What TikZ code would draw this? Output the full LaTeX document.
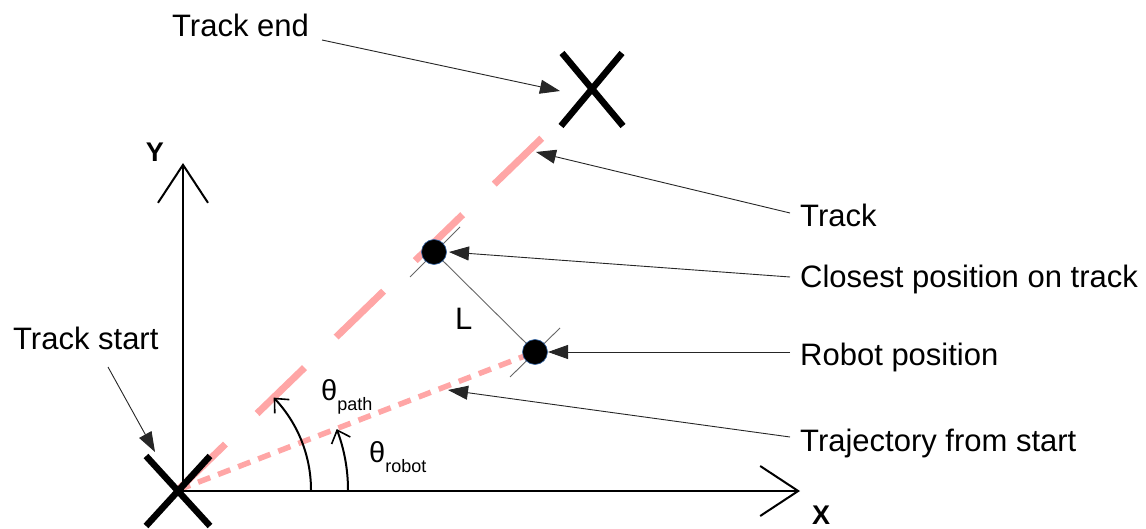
\documentclass[tikz,border=0pt]{standalone}
\usepackage{fontspec}
\setmainfont{Liberation Sans}
\usetikzlibrary{arrows.meta}
\definecolor{trackpink}{RGB}{255,166,166}
\definecolor{dotedge}{RGB}{52,101,164}
\tikzset{
  lbl/.style={anchor=base west,inner sep=0pt,font=\fontsize{31}{33}\selectfont},
  callout/.style={draw=black!85,line width=0.9pt,-{Triangle[length=20pt,width=14pt]}},
  axis/.style={line width=2pt,-{Straight Barb[length=38pt,width=50pt,line width=2pt]}},
  anglearc/.style={line width=2pt,-{Straight Barb[length=11pt,width=20pt,line width=1.6pt]}},
  crossmark/.style={line width=6.5pt,black},
  tick/.style={draw=black!60,line width=0.9pt},
  dotmark/.style={circle,fill=black,draw=dotedge,line width=0.6pt,minimum size=25pt,inner sep=0pt}
}
\begin{document}
\begin{tikzpicture}[x=1pt,y=-1pt]
\useasboundingbox (0,0) rectangle (1146,529);
% key points
\coordinate (O) at (178,490);
\coordinate (TE) at (592,88);
\coordinate (TEnd) at (544,136);
\coordinate (YB) at (183,491);
\coordinate (YT) at (183,163);
\coordinate (XB) at (178,491);
\coordinate (XT) at (800,491);
% track (long dashes)
\draw[trackpink,line width=7pt,dash pattern=on 66pt off 44pt] (O) -- (TEnd);
% trajectory (short dashes)
\coordinate (R) at (535,352);
\coordinate (C) at (434,252);
\draw[trackpink,line width=5.5pt,dash pattern=on 13pt off 8.5pt] (O) -- (R);
% axes
\draw[axis] (YB) -- (YT);
\draw[axis] (XB) -- (XT);
\node[inner sep=0pt,font=\bfseries\fontsize{27}{28}\selectfont] (ylab) at (155,152) {Y};
\node[inner sep=0pt,font=\bfseries\fontsize{27}{28}\selectfont] (xlab) at (821,515) {X};
% crosses
\draw[crossmark] (O) ++(-32,-34) -- ++(64,70);
\draw[crossmark] (O) ++(32,-34) -- ++(-64,70);
\draw[crossmark] (TE) ++(-30,-35) -- ++(61,73);
\draw[crossmark] (TE) ++(30,-35) -- ++(-61,73);
% L segment and ticks
\draw[tick] (C) -- (R);
\coordinate (ct1) at (410,277); \coordinate (ct2) at (460,227);
\coordinate (rt1) at (510,377); \coordinate (rt2) at (560,328);
\draw[tick] (ct1) -- (ct2);
\draw[tick] (rt1) -- (rt2);
\node[dotmark] (cdot) at (C) {};
\node[dotmark] (rdot) at (R) {};
\node[lbl] (Llab) at (455,330) {L};
% angle arcs
\draw[anglearc] plot[domain=0:44,samples=40] ({178+133*cos(\x)},{490-133*sin(\x)});
\draw[anglearc] plot[domain=0:21,samples=30] ({178+170*cos(\x)},{490-170*sin(\x)});
\node[anchor=base west,inner sep=0pt,font=\fontsize{29}{31}\selectfont] (thp) at (321,400) {θ\raisebox{-10pt}{\fontsize{18}{19}\selectfont path}};
\node[anchor=base west,inner sep=0pt,font=\fontsize{29}{31}\selectfont] (thr) at (369,462) {θ\raisebox{-10pt}{\fontsize{18}{19}\selectfont robot}};
% labels
\node[lbl] (lte) at (172,37) {Track end};
\node[lbl] (ltr) at (800,227) {Track};
\node[lbl] (lcl) at (800,288) {Closest position on track};
\node[lbl] (lro) at (800,365) {Robot position};
\node[lbl] (ltj) at (800,451) {Trajectory from start};
\node[lbl] (lts) at (13,349) {Track start};
% callout arrows
\coordinate (a1s) at (322,40);  \coordinate (a1e) at (560,91);
\coordinate (a2s) at (790,213); \coordinate (a2e) at (536,152);
\coordinate (a3s) at (790,277); \coordinate (a3e) at (449,252);
\coordinate (a4s) at (790,352); \coordinate (a4e) at (548,352);
\coordinate (a5s) at (790,437); \coordinate (a5e) at (448,390);
\coordinate (a6s) at (108,367); \coordinate (a6e) at (155,452);
\draw[callout] (a1s) -- (a1e);
\draw[callout] (a2s) -- (a2e);
\draw[callout] (a3s) -- (a3e);
\draw[callout] (a4s) -- (a4e);
\draw[callout] (a5s) -- (a5e);
\draw[callout] (a6s) -- (a6e);
\end{tikzpicture}
\end{document}
